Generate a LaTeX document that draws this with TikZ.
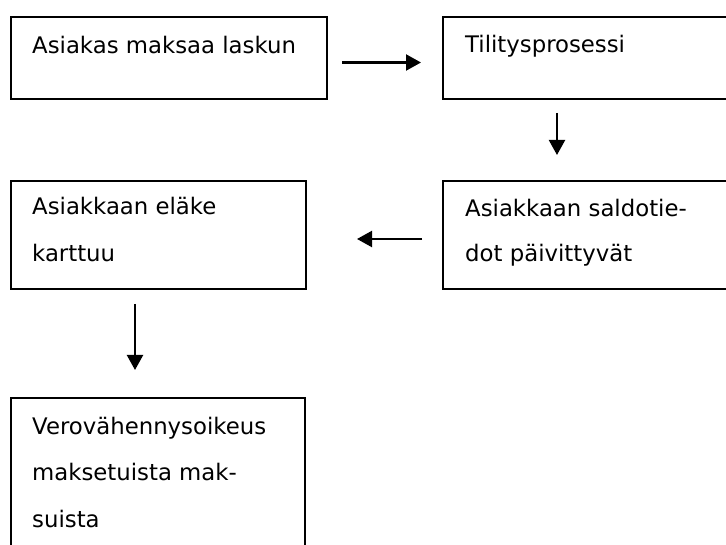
\documentclass[tikz,border=0pt]{standalone}
\usepackage{fontspec}
\setmainfont{DejaVu Sans}
\usetikzlibrary{arrows.meta}
\begin{document}
\begin{tikzpicture}[x=1pt,y=-1pt,
  box/.style={draw=black,line width=2.1pt,inner sep=0pt},
  label/.style={anchor=base west,inner sep=0pt,font=\fontsize{22.8}{22.8}\selectfont},
  arr/.style={line width=2.1pt,-{Triangle[length=15pt,width=16pt]}}]
  \useasboundingbox (0,0) rectangle (726,545);
  \clip (0,0) rectangle (726,545);

  % process boxes (right column and last box run past the page edge)
  \node[box] (b1) at (169,58) [minimum width=316pt,minimum height=82pt] {};
  \node[box] (b2) at (595,58) [minimum width=304pt,minimum height=82pt] {};
  \node[box] (b4) at (595,235) [minimum width=304pt,minimum height=108pt] {};
  \node[box] (b3) at (158.5,235) [minimum width=295pt,minimum height=108pt] {};
  \node[box] (b5) at (158,490) [minimum width=294pt,minimum height=184pt] {};

  % box texts
  \node[label] (t1) at (32,54) {Asiakas maksaa laskun};
  \node[label] (t2) at (465,53) {Tilitysprosessi};
  \node[label] (t4a) at (465,217) {Asiakkaan saldotie-};
  \node[label] (t4b) at (465,262) {dot päivittyvät};
  \node[label] (t3a) at (32,215) {Asiakkaan eläke};
  \node[label] (t3b) at (32,262) {karttuu};
  \node[label] (t5a) at (32,434) {Verovähennysoikeus};
  \node[label] (t5b) at (32,480) {maksetuista mak-};
  \node[label] (t5c) at (32,527) {suista};

  % arrow end points in the gaps between boxes
  \coordinate (a1s) at (342,62.5);
  \coordinate (a1e) at (421,62.5);
  \coordinate (a2s) at (557,113);
  \coordinate (a2e) at (557,155);
  \coordinate (a3s) at (422,239);
  \coordinate (a3e) at (357,239);
  \coordinate (a4s) at (135,304);
  \coordinate (a4e) at (135,370);

  \draw[arr] (a1s) -- (a1e);
  \draw[arr] (a2s) -- (a2e);
  \draw[arr] (a3s) -- (a3e);
  \draw[arr] (a4s) -- (a4e);
\end{tikzpicture}
\end{document}
